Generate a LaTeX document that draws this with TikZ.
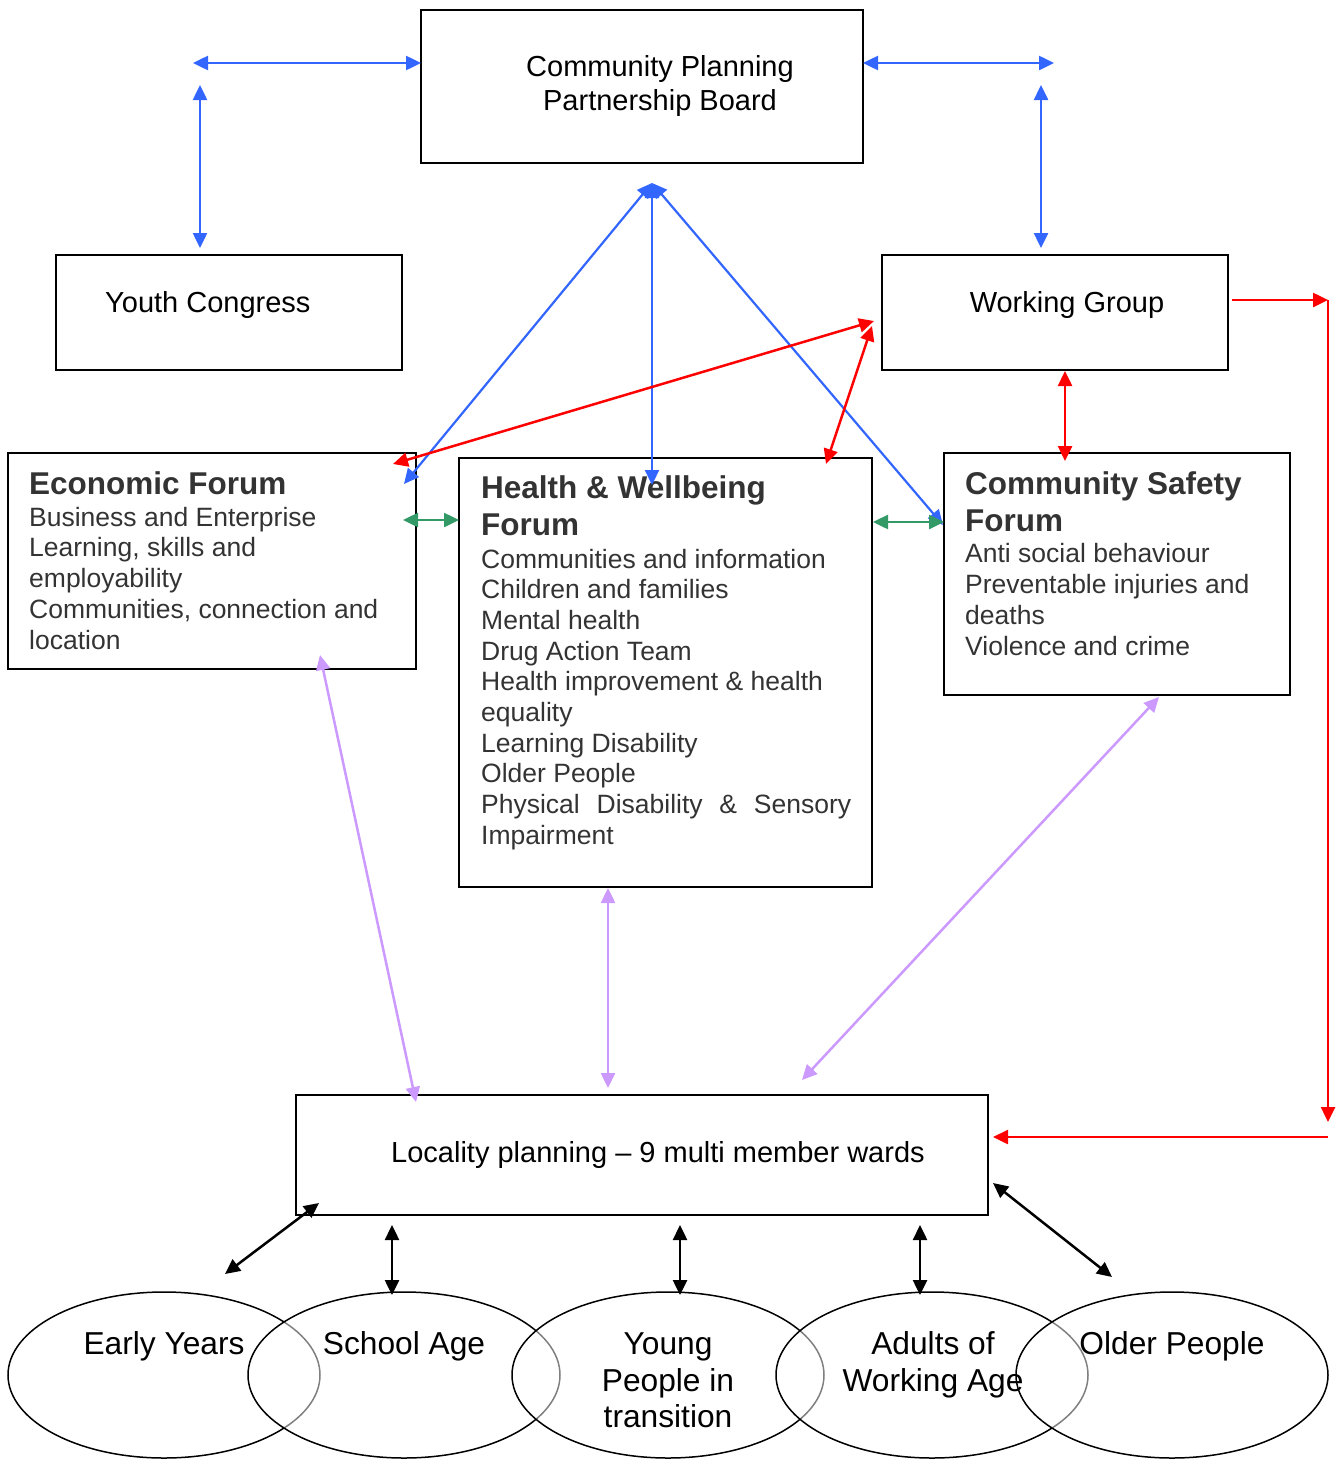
\documentclass[tikz,border=0pt]{standalone}
\usepackage{fontspec}
\setmainfont{Liberation Sans}
\usetikzlibrary{arrows.meta,shapes.geometric}
\definecolor{cblue}{HTML}{3366FF}
\definecolor{cred}{HTML}{FF0000}
\definecolor{cgreen}{HTML}{339966}
\definecolor{cpurple}{HTML}{CC99FF}
\definecolor{ctext}{HTML}{333333}
\begin{document}
\begin{tikzpicture}[x=1pt,y=-1pt,
  box/.style={draw=black, line width=2pt, rectangle, inner sep=0pt, outer sep=0pt},
  oval/.style={draw=black, line width=1.5pt, ellipse, inner sep=0pt, outer sep=0pt, minimum width=312pt, minimum height=166pt, fill=white, fill opacity=0.5},
  boxtext/.style={inner sep=0pt, anchor=base, align=center, font=\fontsize{29}{34}\selectfont},
  ftitle/.style={inner sep=0pt, anchor=base west, align=left, text=ctext, font=\fontsize{31.5}{37}\selectfont\bfseries},
  fbody/.style={inner sep=0pt, anchor=base west, align=left, text=ctext, font=\fontsize{26.5}{30.7}\selectfont},
  otext/.style={inner sep=0pt, anchor=base, align=center, font=\fontsize{31.7}{36.5}\selectfont},
  link/.style={line width=2.5pt, {Triangle[length=15pt,width=14pt]}-{Triangle[length=15pt,width=14pt]}},
  tolink/.style={line width=2.5pt, -{Triangle[length=15pt,width=14pt]}},
]
\useasboundingbox (0,0) rectangle (1341,1459);

% boxes
\node[box, minimum width=442pt, minimum height=153pt] (cppb) at (642,86.5) {};
\node[box, minimum width=346pt, minimum height=115pt] (youth) at (229,312.5) {};
\node[box, minimum width=346pt, minimum height=115pt] (wg) at (1055,312.5) {};
\node[box, minimum width=408pt, minimum height=216pt] (econ) at (212,561) {};
\node[box, minimum width=413pt, minimum height=429pt] (health) at (665.5,672.5) {};
\node[box, minimum width=346pt, minimum height=242pt] (cs) at (1117,574) {};
\node[box, minimum width=692pt, minimum height=120pt] (loc) at (642,1155) {};

% box texts (anchor base = baseline of the last line)
\node[boxtext] (cppbtext) at (660,110.5) {Community Planning\\Partnership Board};
\node[boxtext, anchor=base west] (youthtext) at (105,312.5) {Youth Congress};
\node[boxtext] (wgtext) at (1067,312.5) {Working Group};
\node[boxtext] (loctext) at (658,1162.5) {Locality planning – 9 multi member wards};

\node[ftitle] (econtitle) at (29,494) {Economic Forum};
\node[fbody] (econbody) at (29,649) {Business and Enterprise\\Learning, skills and\\employability\\Communities, connection and\\location};

\node[ftitle] (healthtitle) at (481,535) {Health \& Wellbeing\\Forum};
\node[fbody] (healthbody) at (481,844.3) {Communities and information\\Children and families\\Mental health\\Drug Action Team\\Health improvement \& health\\equality\\Learning Disability\\Older People\\\makebox[370pt][s]{Physical Disability \& Sensory}\\Impairment};

\node[ftitle] (cstitle) at (965,531) {Community Safety\\Forum};
\node[fbody] (csbody) at (965,655) {Anti social behaviour\\Preventable injuries and\\deaths\\Violence and crime};

% ellipses
\node[oval] (early) at (164,1375) {};
\node[oval] (school) at (404,1375) {};
\node[oval] (young) at (668,1375) {};
\node[oval] (adults) at (932,1375) {};
\node[oval] (older) at (1172,1375) {};

\node[otext] (earlytext) at (164,1354.5) {Early Years};
\node[otext] (schooltext) at (404,1354.5) {School Age};
\node[otext] (youngtext) at (668,1427.5) {Young\\People in\\transition};
\node[otext] (adultstext) at (933,1391) {Adults of\\Working Age};
\node[otext] (oldertext) at (1172,1354.5) {Older People};

% coordinates
\coordinate (bl1) at (193,63);
\coordinate (bl2a) at (200,85);
\coordinate (bl2b) at (200,248);
\coordinate (br1) at (1054,63);
\coordinate (br2a) at (1041,85);
\coordinate (br2b) at (1041,248);
\coordinate (hub) at (652,183);
\coordinate (hubE) at (404,484);
\coordinate (hubH) at (652,485);
\coordinate (hubC) at (943,525);
\coordinate (rE) at (393,464);
\coordinate (rW1) at (874,321);
\coordinate (rW2) at (872,326);
\coordinate (rH) at (826,464);
\coordinate (rWa) at (1065,371);
\coordinate (rCb) at (1065,461);
\coordinate (rs) at (1232,300);
\coordinate (rc1) at (1328,300);
\coordinate (rc2) at (1328,1122);
\coordinate (rc3) at (1328,1137);
\coordinate (rl) at (993,1137);
\coordinate (g1a) at (403,520);
\coordinate (g1b) at (459,520);
\coordinate (g2a) at (873,522);
\coordinate (g2b) at (944,522);
\coordinate (p1a) at (320,655);
\coordinate (p1b) at (416,1102);
\coordinate (p2a) at (608,888);
\coordinate (p2b) at (608,1088);
\coordinate (p3a) at (1159,697);
\coordinate (p3b) at (802,1080);
\coordinate (k1a) at (319,1203);
\coordinate (k1b) at (225,1274);
\coordinate (k2a) at (392,1225);
\coordinate (k2b) at (392,1295);
\coordinate (k3a) at (680,1225);
\coordinate (k3b) at (680,1295);
\coordinate (k4a) at (920,1225);
\coordinate (k4b) at (920,1295);
\coordinate (k5a) at (993,1183);
\coordinate (k5b) at (1112,1277);

% blue
\draw[link, cblue] (bl1) -- (bl1 -| cppb.west);
\draw[link, cblue] (bl2a) -- (bl2b);
\draw[link, cblue] (bl1 -| cppb.east) -- (br1);
\draw[link, cblue] (br2a) -- (br2b);
\draw[link, cblue, line width=2.2pt] (hub) -- (hubE);
\draw[link, cblue, line width=2.2pt] (hub) -- (hubH);
\draw[link, cblue, line width=2.2pt] (hub) -- (hubC);

% red
\draw[link, cred] (rE) -- (rW1);
\draw[link, cred] (rH) -- (rW2);
\draw[link, cred] (rWa) -- (rCb);
\draw[tolink, cred] (rs) -- (rc1);
\draw[tolink, cred] (rc1) -- (rc2);
\draw[tolink, cred] (rc3) -- (rl);

% green
\draw[link, cgreen] (g1a) -- (g1b);
\draw[link, cgreen] (g2a) -- (g2b);

% purple
\draw[link, cpurple] (p1a) -- (p1b);
\draw[link, cpurple] (p2a) -- (p2b);
\draw[link, cpurple] (p3a) -- (p3b);

% black
\draw[link, black] (k1a) -- (k1b);
\draw[link, black] (k2a) -- (k2b);
\draw[link, black] (k3a) -- (k3b);
\draw[link, black] (k4a) -- (k4b);
\draw[link, black] (k5a) -- (k5b);
\end{tikzpicture}
\end{document}
